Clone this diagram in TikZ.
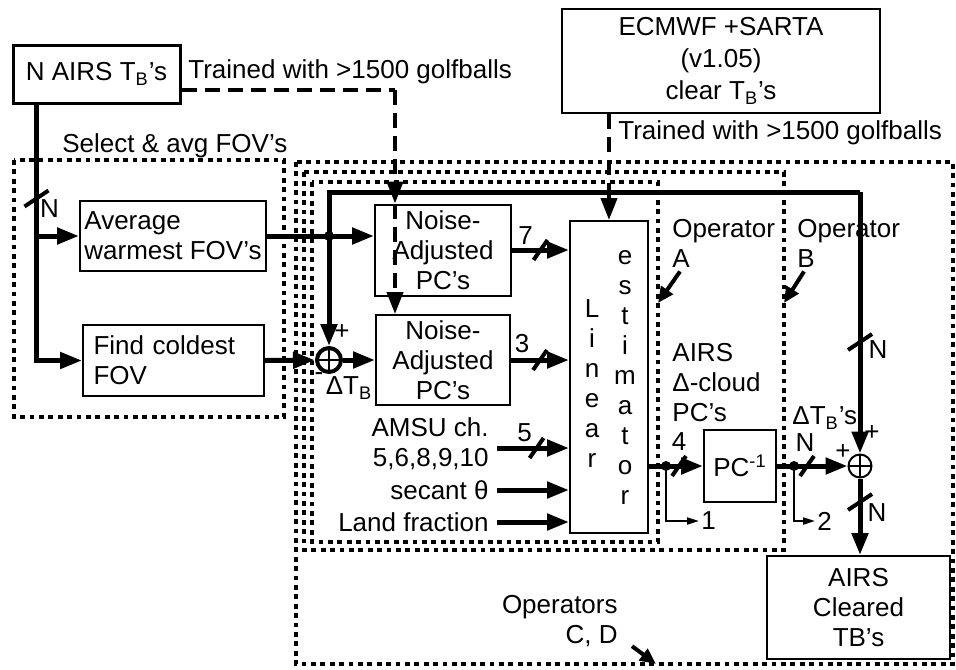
\documentclass[tikz,border=0pt]{standalone}
\usepackage{fontspec}
\setmainfont{Liberation Sans}
\usetikzlibrary{arrows.meta,positioning,calc}

\tikzset{
    hmark/.pic={\draw[line width=2pt] (-7,10) -- (7,-10);},
    vmark/.pic={\draw[line width=2pt] (-12,8) -- (12,-8);}
}

\begin{document}
\begin{tikzpicture}[
    x=0.5pt, y=-0.5pt,
    font=\fontsize{13}{15}\selectfont,
    blk/.style={rectangle, draw, line width=1pt, align=center, inner sep=2pt},
    lbl/.style={inner sep=1pt},
    wire/.style={line width=2.5pt},
    arr/.style={line width=2.5pt, -{Triangle[length=11pt,width=8pt]}},
    tinyarr/.style={line width=1pt, -{Triangle[length=6pt,width=3.5pt]}},
    ptr/.style={line width=2pt, -{Triangle[length=8pt,width=7pt]}},
    train/.style={line width=2pt, dash pattern=on 7.5pt off 4pt, -{Triangle[length=11pt,width=8pt]}},
    opbox/.style={line width=2.4pt, dash pattern=on 2.4pt off 2.3pt},
    sum/.style={circle, draw, inner sep=0pt, minimum size=12pt,
        path picture={\draw[line width=1pt] (path picture bounding box.north) -- (path picture bounding box.south)
            (path picture bounding box.west) -- (path picture bounding box.east);}}
]
    \path[fill=white, use as bounding box] (0,0) rectangle (956,669);

    % operator outlines
    \draw[opbox] (14,160) rectangle (284,417);
    \draw[opbox] (296,162) rectangle (953,664);
    \draw[opbox] (304,172) rectangle (784,550);
    \draw[opbox] (312,182) rectangle (658,542);

    \node [blk, line width=1.5pt, minimum width=83.5pt, minimum height=29pt] (nairs) at (96.5,74) {N AIRS T\textsubscript{B}'s};
    \node [lbl, anchor=west] (trn1) at (186,72) {Trained with >1500 golfballs};
    \node [blk, minimum width=159pt, minimum height=52pt, font=\fontsize{13}{16}\selectfont] (ecmwf) at (721,61) {ECMWF +SARTA\\(v1.05)\\clear T\textsubscript{B}'s};
    \node [lbl, anchor=west] (trn2) at (616,133) {Trained with >1500 golfballs};
    \node [lbl, anchor=west] (selt) at (60,146) {Select \& avg FOV's};

    \node [blk, anchor=north west, minimum width=93pt, minimum height=35pt, align=left] (avg) at (79,200) {Average\\warmest FOV's};
    \node [blk, anchor=north west, minimum width=90.5pt, minimum height=35.5pt, text width=80pt, align=left] (find) at (82,324) {Find coldest\\FOV};

    \node [blk, inner ysep=1pt, minimum width=68pt, minimum height=45.5pt] (na1) at (443,250) {Noise-\\Adjusted\\PC's};
    \node [blk, inner ysep=1pt, minimum width=67pt, minimum height=45pt] (na2) at (443,360) {Noise-\\Adjusted\\PC's};
    \node [sum, line width=2pt] (s1) at (329,360) {};
    \node [lbl] (dtb) at ($(s1)+(20,28)$) {ΔT\textsubscript{B}};

    \node [blk, minimum width=39pt, minimum height=156pt] (le) at (609,377) {};
    \node [lbl, align=center] (lin) at (592,384) {L\\i\\n\\e\\a\\r};
    \node [lbl, align=center] (est) at (625,377) {e\\s\\t\\i\\m\\a\\t\\o\\r};

    \node [lbl, anchor=east, align=right] (amsu) at (491,444) {AMSU ch.\\5,6,8,9,10};
    \node [lbl, anchor=east] (sec) at (491,490) {secant θ};
    \node [lbl, anchor=east] (land) at (491,522) {Land fraction};

    \node [blk, minimum width=36pt, minimum height=36pt] (pcinv) at (740,466) {PC\textsuperscript{-1}};
    \node [sum, line width=1pt, minimum size=11.5pt] (s2) at (860,466) {};
    \node [blk, minimum width=91.5pt, minimum height=51.5pt] (clr) at (858.5,607.5) {AIRS\\Cleared\\TB's};

    \node [lbl, anchor=west, align=left] (opa) at (670,243) {Operator\\A};
    \node [lbl, anchor=west, align=left] (opb) at (795,243) {Operator\\B};
    \node [lbl, anchor=east, align=right] (opcd) at (620,621) {Operators\\C, D};
    \node [lbl, anchor=west, align=left] (dcl) at (670,383) {AIRS\\Δ-cloud\\PC's};
    \node [lbl, anchor=west] (dtbs) at (790,418) {ΔT\textsubscript{B}'s};
    \node [lbl, anchor=west] (o1) at (699,521) {1};
    \node [lbl, anchor=west] (o2) at (815,521) {2};

    \coordinate (aedge) at (658,303);
    \coordinate (bedge) at (784,303);
    \coordinate (cdedge) at (656,664);
    \draw [ptr] ($(opa.south west)+(10,2)$) -- (aedge);
    \draw [ptr] ($(opb.south west)+(9,2)$) -- (bedge);
    \draw [ptr] ($(opcd.south east)+(12,-3)$) -- (cdedge);

    % training inputs
    \coordinate (dA) at ($(nairs.east)+(0,16)$);
    \coordinate (dcol) at (395,90);
    \draw [train, -] (dA) -- (dcol);
    \draw [train] (dcol) -- (dcol |- na1.north);
    \draw [train] (dcol |- na1.north) -- (dcol |- na2.north);
    \draw [train] (ecmwf.south -| le.north) -- (le.north);

    % field of view selection
    \coordinate (nv) at ($(nairs.south west)+(25,0)$);
    \draw [arr] (nv) |- (find.west);
    \draw [arr] (nv |- avg.west) -- (avg.west);
    \pic at ($(nv)+(0,94)$) {vmark};
    \node [lbl] at ($(nv)+(13,104)$) {N};

    \coordinate (j1) at (s1 |- avg.east);
    \coordinate (tr) at (860,192);
    \draw [arr] (avg.east) -- (avg.east -| na1.west);
    \draw [wire] (j1) |- (tr);
    \draw [arr] (tr) -- (s2);
    \draw [arr] (j1) -- (s1);
    \fill (j1) circle (2.5pt);
    \draw [arr] (find.east) -- (s1);
    \draw [arr] (s1) -- (na2);
    \node [lbl] at ($(s1)+(13,-28)$) {+};
    \node [lbl] at ($(s1)+(-10,17)$) {-};

    % estimator inputs
    \draw [arr] (na1) -- (na1 -| le.west);
    \coordinate (m7) at ($(na1.east)!0.5!(na1 -| le.west)$);
    \pic at (m7) {hmark};
    \node [lbl] at ($(m7)+(-15,-14)$) {7};
    \draw [arr] (na2) -- (na2 -| le.west);
    \coordinate (m3) at ($(na2.east)!0.5!(na2 -| le.west)$);
    \pic at (m3) {hmark};
    \node [lbl] at ($(m3)+(-18,-16)$) {3};
    \coordinate (a5) at ($(amsu.east)+(6,4)$);
    \draw [arr] (a5) -- (a5 -| le.west);
    \coordinate (m5) at ($(a5)!0.55!(a5 -| le.west)$);
    \pic at (m5) {hmark};
    \node [lbl] at ($(m5)+(-12,-15)$) {5};
    \draw [arr] ($(sec.east)+(6,0)$) -- (sec -| le.west);
    \draw [arr] ($(land.east)+(6,0)$) -- (land -| le.west);

    % estimator outputs
    \coordinate (lo) at (le.east |- pcinv);
    \coordinate (j4) at ($(lo)+(17,0)$);
    \draw [arr] (lo) -- (pcinv);
    \fill (j4) circle (2.5pt);
    \pic at ($(lo)+(30,0)$) {hmark};
    \node [lbl] at ($(lo)+(30,-24)$) {4};
    \draw [tinyarr] (j4) |- (o1);

    \coordinate (j5) at ($(pcinv.east)+(17,0)$);
    \draw [arr] (pcinv) -- (s2);
    \fill (j5) circle (2.5pt);
    \pic at ($(pcinv.east)+(30,0)$) {hmark};
    \node [lbl] at ($(pcinv.east)+(28,-23)$) {N};
    \draw [tinyarr] (j5) |- (o2);

    \pic at ($(tr)+(0,150)$) {vmark};
    \node [lbl] at ($(tr)+(18,158)$) {N};
    \node [lbl] at ($(s2)+(-17,-14)$) {+};
    \node [lbl] at ($(s2)+(12,-33)$) {+};
    \draw [arr] (s2) -- (s2 |- clr.north);
    \pic at ($(s2)+(0,36)$) {vmark};
    \node [lbl] at ($(s2)+(17,47)$) {N};
\end{tikzpicture}
\end{document}
